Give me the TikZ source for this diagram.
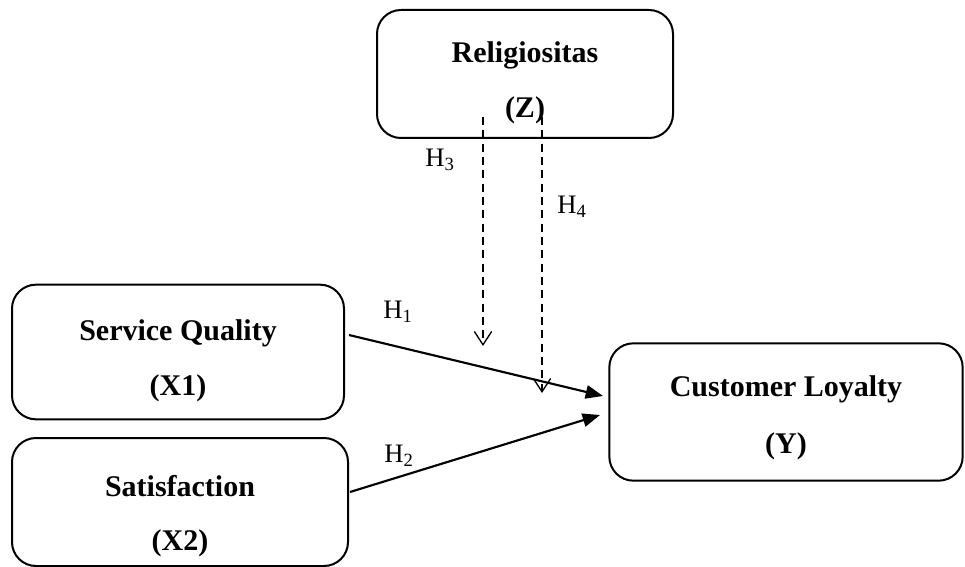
\documentclass[tikz,border=0pt]{standalone}
\usepackage{fontspec}
\setmainfont{Liberation Serif}
\usetikzlibrary{arrows.meta}

\newcommand{\topgap}[1]{\rule{0pt}{#1}}

\tikzset{
	varbox/.style = {draw, line width=1.5pt, rounded corners=18pt, align=center,
		font=\fontsize{22.5}{26}\selectfont\bfseries},
	hyp/.style = {font=\fontsize{20}{22}\selectfont},
	effect/.style = {line width=1.6pt, -{Triangle[length=13pt, width=10pt]}},
	moder/.style = {line width=1pt, dash pattern=on 6pt off 4pt,
		-{Straight Barb[length=10pt, width=13pt, line width=1pt]}}
}

\begin{document}
\begin{tikzpicture}[x=0.75pt, y=-0.75pt]
	\useasboundingbox (0,0) rectangle (965,567);

	\node [varbox, minimum width=222pt, minimum height=96pt] (rel) at (525,74) {\topgap{29pt}Religiositas\\[15pt](Z)};
	\node [varbox, minimum width=249pt, minimum height=101pt] (sq) at (178,352) {\topgap{29pt}Service Quality\\[15pt](X1)};
	\node [varbox, minimum width=252pt, minimum height=96pt] (sat) at (180,502) {\topgap{37pt}Satisfaction\\[14pt](X2)};
	\node [varbox, minimum width=265pt, minimum height=103pt] (cl) at (786,412) {\topgap{24pt}Customer Loyalty\\[17pt](Y)};

	\coordinate (h1s) at (349,335);
	\coordinate (h1e) at (603,396);
	\coordinate (h2s) at (350,492);
	\coordinate (h2e) at (600,415);
	\coordinate (h3s) at (483,117);
	\coordinate (h3e) at (483,346);
	\coordinate (h4s) at (542,117);
	\coordinate (h4e) at (542,393);

	\draw [effect] (h1s) -- (h1e);
	\draw [effect] (h2s) -- (h2e);
	\draw [moder] (h3s) -- (h3e);
	\draw [moder] (h4s) -- (h4e);

	\node [hyp] (lh1) at (398,312) {H\textsubscript{1}};
	\node [hyp] (lh2) at (399,456) {H\textsubscript{2}};
	\node [hyp] (lh3) at (440,160) {H\textsubscript{3}};
	\node [hyp] (lh4) at (572,207) {H\textsubscript{4}};
\end{tikzpicture}
\end{document}
